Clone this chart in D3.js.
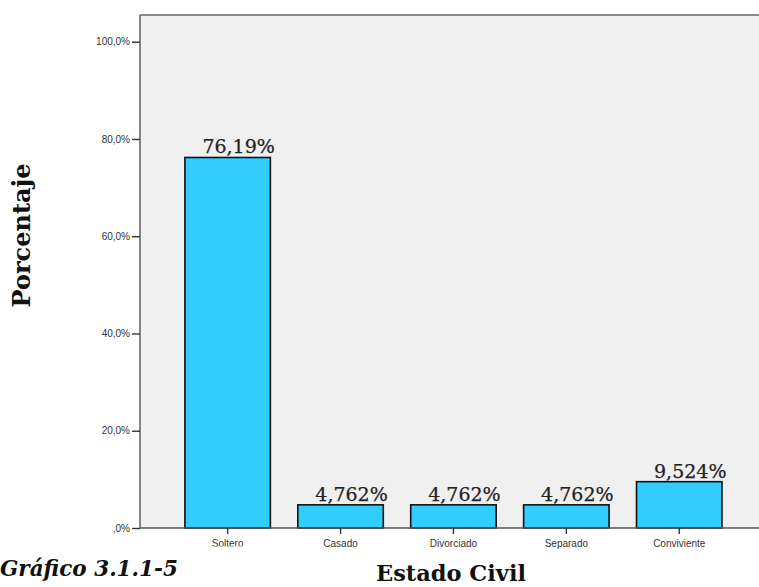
<!DOCTYPE html>
<html>
<head>
<meta charset="utf-8">
<script src="https://cdn.jsdelivr.net/npm/d3@7/dist/d3.min.js"></script>
<style>
  html, body { margin: 0; padding: 0; background: #fff; }
  svg { display: block; }
</style>
</head>
<body>
<svg id="chart" width="759" height="587"></svg>
<script>
// Estado civil: percentage of respondents per category
const categories = ["Soltero", "Casado", "Divorciado", "Separado", "Conviviente"];
const percentages = [76.19, 4.762, 4.762, 4.762, 9.524];
const valueLabels = ["76,19%", "4,762%", "4,762%", "4,762%", "9,524%"];
const yTicks = [0, 20, 40, 60, 80, 100];
const yTickLabels = [",0%", "20,0%", "40,0%", "60,0%", "80,0%", "100,0%"];

const svg = d3.select("#chart");

const plot = { left: 140, top: 15, right: 760, bottom: 528 };

const y = d3.scaleLinear().domain([0, 100]).range([plot.bottom, 41.7]);
const x = d3.scaleBand()
  .domain(categories)
  .range([171.2, 735.7])
  .paddingInner(0.243)
  .paddingOuter(0.1215);

// plot background
svg.append("rect")
  .attr("x", plot.left).attr("y", plot.top)
  .attr("width", plot.right - plot.left).attr("height", plot.bottom - plot.top)
  .attr("fill", "#f0f0f0");

// top frame line
svg.append("line")
  .attr("x1", plot.left).attr("x2", plot.right)
  .attr("y1", plot.top).attr("y2", plot.top)
  .attr("stroke", "#8a8a8a").attr("stroke-width", 2.2);

// bars
svg.append("g").selectAll("rect")
  .data(categories)
  .join("rect")
  .attr("x", d => x(d))
  .attr("y", (d, i) => y(percentages[i]))
  .attr("width", x.bandwidth())
  .attr("height", (d, i) => y(0) - y(percentages[i]))
  .attr("fill", "#33ccff")
  .attr("stroke", "#111")
  .attr("stroke-width", 1.6);

// y axis
const yAxis = d3.axisLeft(y)
  .tickValues(yTicks)
  .tickSize(8)
  .tickPadding(2)
  .tickFormat((d, i) => yTickLabels[i]);

const gy = svg.append("g")
  .attr("transform", `translate(${plot.left},0)`)
  .call(yAxis);
gy.select(".domain").attr("stroke", "#555").attr("stroke-width", 1.4)
  .attr("d", `M0,${plot.top}V${plot.bottom}`);
gy.selectAll(".tick line").attr("stroke", "#333").attr("stroke-width", 1.4);
gy.selectAll(".tick text")
  .attr("font-family", "Liberation Sans, Arial, sans-serif")
  .attr("font-size", 10)
  .attr("fill", "#333");

// x axis
const xAxis = d3.axisBottom(x).tickSize(6).tickPadding(6);
const gx = svg.append("g")
  .attr("transform", `translate(0,${plot.bottom})`)
  .call(xAxis);
gx.select(".domain").attr("stroke", "#555").attr("stroke-width", 1.4)
  .attr("d", `M${plot.left},0H${plot.right}`);
gx.selectAll(".tick line").attr("stroke", "#333").attr("stroke-width", 1.4);
gx.selectAll(".tick text")
  .attr("font-family", "Liberation Sans, Arial, sans-serif")
  .attr("font-size", 10)
  .attr("fill", "#333");

// value labels above bars
svg.append("g").selectAll("text")
  .data(categories)
  .join("text")
  .attr("x", d => x(d) + 17.5)
  .attr("y", (d, i) => y(percentages[i]) - 4)
  .attr("text-anchor", "start")
  .attr("font-family", "DejaVu Serif, serif")
  .attr("font-size", 19)
  .attr("fill", "#222")
  .attr("stroke", "#222")
  .attr("stroke-width", 0.25)
  .text((d, i) => valueLabels[i]);

// caption block (white band under the axis labels)
svg.append("rect")
  .attr("x", 0).attr("y", 546.5)
  .attr("width", 290).attr("height", 41)
  .attr("fill", "#fff");
svg.append("text")
  .attr("x", 0).attr("y", 575.5)
  .attr("font-family", "DejaVu Serif, serif")
  .attr("font-weight", "bold")
  .attr("font-style", "italic")
  .attr("font-size", 21.5)
  .attr("fill", "#111")
  .text("Gráfico 3.1.1-5");

// axis titles
svg.append("text")
  .attr("x", 451).attr("y", 581)
  .attr("text-anchor", "middle")
  .attr("font-family", "DejaVu Serif, serif")
  .attr("font-weight", "bold")
  .attr("font-size", 22.5)
  .attr("fill", "#111")
  .text("Estado Civil");

svg.append("text")
  .attr("transform", "translate(30,235.5) rotate(-90)")
  .attr("text-anchor", "middle")
  .attr("font-family", "DejaVu Serif, serif")
  .attr("font-weight", "bold")
  .attr("font-size", 24)
  .attr("fill", "#111")
  .text("Porcentaje");
</script>
</body>
</html>
